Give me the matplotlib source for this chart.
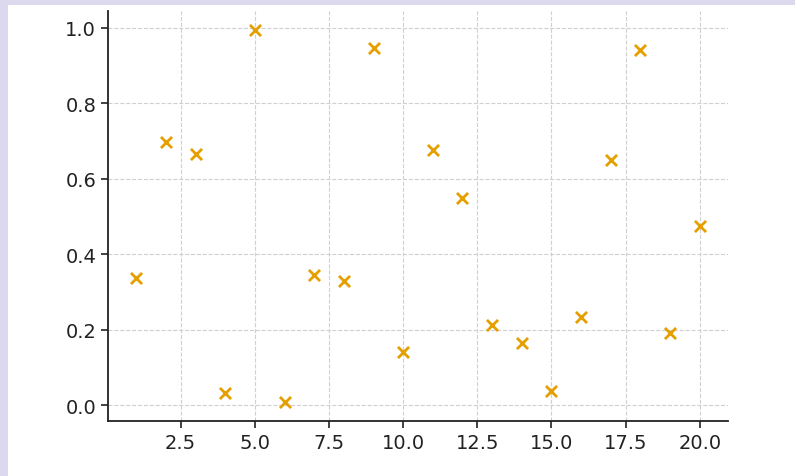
import matplotlib
matplotlib.use("Agg")
import matplotlib.pyplot as plt
from matplotlib.patches import Rectangle

# values
x_vals = list(range(1, 21))
y_vals = [0.338, 0.697, 0.665, 0.034, 0.995, 0.008, 0.346, 0.330, 0.947, 0.142,
          0.675, 0.549, 0.214, 0.164, 0.037, 0.235, 0.649, 0.942, 0.193, 0.475]

fig = plt.figure(figsize=(7.95, 4.77), dpi=100)
fig.patch.set_facecolor("white")

# lavender page strips along left and top edge
lav = "#dcd9ee"
fig.patches.append(Rectangle((0, 0), 8 / 795, 1, transform=fig.transFigure,
                             facecolor=lav, edgecolor="none", zorder=-1))
fig.patches.append(Rectangle((0, 1 - 6 / 477), 1, 6 / 477, transform=fig.transFigure,
                             facecolor=lav, edgecolor="none", zorder=-1))

ax = fig.add_axes([108 / 795, 1 - 422 / 477, 620 / 795, 410 / 477])
ax.scatter(x_vals, y_vals, marker="x", color="#e69f00", s=64, linewidths=2, zorder=3)

ax.grid(True, linestyle="--", color="#d0d0d0", linewidth=0.8)
ax.set_axisbelow(True)
for s in ["top", "right"]:
    ax.spines[s].set_visible(False)
for s in ["left", "bottom"]:
    ax.spines[s].set_linewidth(1.3)
    ax.spines[s].set_color("#222222")
ax.tick_params(labelsize=14, length=5, width=1.2, colors="#222222")
ax.set_yticks([0.0, 0.2, 0.4, 0.6, 0.8, 1.0])

fig.savefig("out.png", dpi=100)
